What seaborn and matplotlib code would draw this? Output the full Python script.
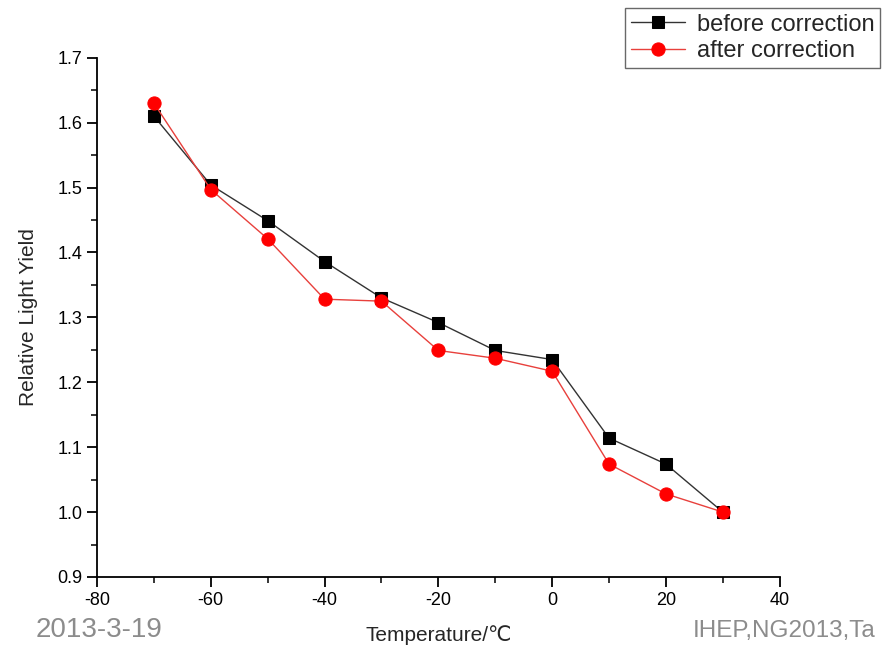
import matplotlib
matplotlib.use("Agg")
import matplotlib.pyplot as plt
import seaborn as sns
import pandas as pd
from matplotlib.ticker import MultipleLocator

temperature = [-70, -60, -50, -40, -30, -20, -10, 0, 10, 20, 30]
before_correction = [1.610, 1.504, 1.449, 1.386, 1.330, 1.292, 1.249, 1.235, 1.114, 1.074, 1.000]
after_correction = [1.630, 1.497, 1.421, 1.328, 1.325, 1.249, 1.237, 1.217, 1.074, 1.028, 1.000]
x_ticks = [-80, -60, -40, -20, 0, 20, 40]
y_ticks = [0.9, 1.0, 1.1, 1.2, 1.3, 1.4, 1.5, 1.6, 1.7]

sns.set_style("ticks")
plt.rcParams['font.family'] = ['Liberation Sans', 'DejaVu Sans', 'Noto Sans CJK SC']
plt.rcParams['axes.unicode_minus'] = False

df = pd.DataFrame({"T": temperature, "before": before_correction, "after": after_correction})

fig = plt.figure(figsize=(8.82, 6.49), dpi=100)
ax = fig.add_axes([0.110, 0.111, 0.774, 0.800])

sns.lineplot(data=df, x="T", y="before", ax=ax, color="#333333", lw=1.0,
             marker="s", markersize=8.5, markerfacecolor="black", markeredgecolor="black",
             label="before correction", legend=False)
sns.lineplot(data=df, x="T", y="after", ax=ax, color="#e8403c", lw=1.0,
             marker="o", markersize=9.5, markerfacecolor="red", markeredgecolor="red",
             label="after correction", legend=False)

ax.set_xlim(-80, 40)
ax.set_ylim(0.9, 1.7)
ax.set_xticks(x_ticks)
ax.set_xticklabels([str(v) for v in x_ticks])
ax.set_yticks(y_ticks)
ax.set_yticklabels([f"{v:.1f}" for v in y_ticks])
ax.xaxis.set_minor_locator(MultipleLocator(10))
ax.yaxis.set_minor_locator(MultipleLocator(0.05))
ax.tick_params(axis='both', which='major', direction='out', length=7, width=1.3,
               labelsize=13, colors='black')
ax.tick_params(axis='both', which='minor', direction='out', length=4, width=1.3)
for s in ['left', 'bottom']:
    ax.spines[s].set_linewidth(1.3)
    ax.spines[s].set_color('black')
sns.despine(ax=ax)

ax.set_xlabel("Temperature/℃", fontsize=15, labelpad=12)
ax.set_ylabel("Relative Light Yield", fontsize=15, labelpad=14)

handles, labels = ax.get_legend_handles_labels()
leg = fig.legend(handles, labels, loc='upper right', bbox_to_anchor=(0.998, 0.988),
                 fontsize=17, frameon=True, fancybox=False, edgecolor='#444444',
                 handlelength=2.3, borderpad=0.25, labelspacing=0.2, handletextpad=0.5,
                 borderaxespad=0.0)
leg.get_frame().set_linewidth(1.0)

fig.text(0.04, 0.018, "2013-3-19", fontsize=20, color='#8c8c8c',
         family=['Liberation Sans Narrow', 'Liberation Sans', 'DejaVu Sans'])
fig.text(0.785, 0.018, "IHEP,NG2013,Ta", fontsize=17.5, color='#8c8c8c',
         family=['Liberation Sans Narrow', 'Liberation Sans', 'DejaVu Sans'])

fig.savefig("out.png", dpi=100)
